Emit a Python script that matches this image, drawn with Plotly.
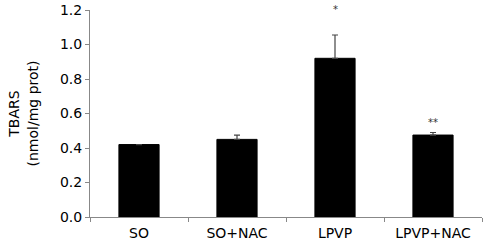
import plotly.graph_objects as go

categories = ["SO", "SO+NAC", "LPVP", "LPVP+NAC"]
values = [0.42, 0.45, 0.92, 0.475]
errors = [0.0, 0.025, 0.135, 0.015]
marks = ["", "", "*", "**"]
y_ticks = [0.0, 0.2, 0.4, 0.6, 0.8, 1.0, 1.2]

fig = go.Figure()
fig.add_trace(go.Bar(
    x=categories, y=values,
    marker=dict(color="black", line=dict(color="black", width=1)),
    error_y=dict(type="data", array=errors, arrayminus=[0]*len(errors), visible=True,
                 color="#444444", thickness=1.2, width=3),
    width=0.41,
))
for c, v, e, m in zip(categories, values, errors, marks):
    if m:
        fig.add_annotation(x=c, y=v + e, text=m, showarrow=False, yshift=26 if m == "*" else 10,
                           font=dict(family="DejaVu Sans", size=10, color="#333"))

fig.update_layout(
    width=485, height=242,
    margin=dict(l=90, r=3, t=10, b=25),
    plot_bgcolor="white", paper_bgcolor="white",
    showlegend=False,
    font=dict(family="DejaVu Sans", size=13, color="black"),
)
fig.update_yaxes(
    range=[0, 1.2], tickvals=y_ticks, ticktext=[f"{v:.1f}" for v in y_ticks],
    showgrid=False, showline=True, linecolor="#888888", linewidth=1,
    ticks="outside", ticklen=4, tickcolor="#888888",
    tickfont=dict(size=14),
    title=dict(text="TBARS<br>(nmol/mg prot)", font=dict(size=14), standoff=18),
    zeroline=False,
)
fig.update_xaxes(
    showgrid=False, showline=True, linecolor="#888888", linewidth=1,
    ticks="outside", ticklen=4, tickcolor="#888888", tickson="boundaries",
    tickfont=dict(size=14), ticklabelstandoff=3, automargin=False,
)
fig.write_html("out.html", config={"displayModeBar": False},
               post_script="document.body.style.margin='0';")
